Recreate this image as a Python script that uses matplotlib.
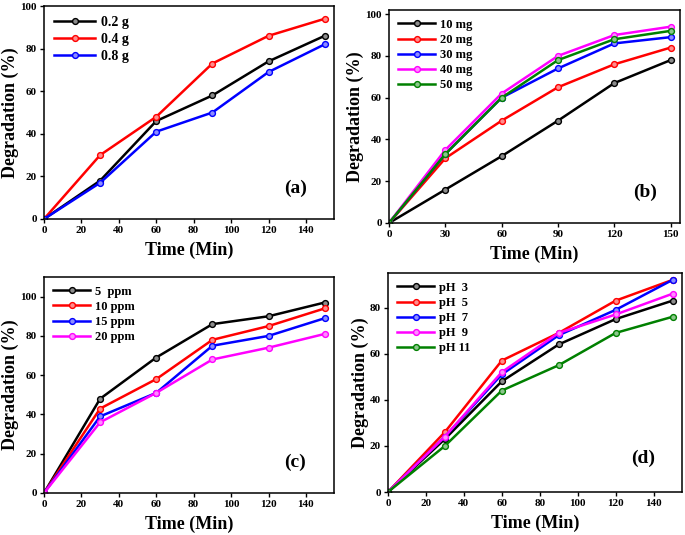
import matplotlib.pyplot as plt
from matplotlib.colors import to_rgb

plt.rcParams['font.family'] = ['Liberation Serif', 'DejaVu Serif']
plt.rcParams['font.weight'] = 'bold'

# time points (min)
t = [0, 30, 60, 90, 120, 150]

# (a) catalyst dose
labels_a = ['0.2 g', '0.4 g', '0.8 g']
vals_a = [
    [0, 18, 46, 58, 74, 86],
    [0, 30, 48, 73, 86, 94],
    [0, 17, 41, 50, 69, 82],
]
colors_a = ['black', 'red', 'blue']

# (b) dye amount
labels_b = ['10 mg', '20 mg', '30 mg', '40 mg', '50 mg']
vals_b = [
    [0, 16, 32, 49, 67, 78],
    [0, 31, 49, 65, 76, 84],
    [0, 33, 60, 74, 86, 89],
    [0, 35, 62, 80, 90, 94],
    [0, 33, 60, 78, 88, 92],
]
colors_b = ['black', 'red', 'blue', 'magenta', 'green']

# (c) concentration
labels_c = ['5  ppm', '10 ppm', '15 ppm', '20 ppm']
vals_c = [
    [0, 48, 69, 86, 90, 97],
    [0, 43, 58, 78, 85, 94],
    [0, 39, 51, 75, 80, 89],
    [0, 36, 51, 68, 74, 81],
]
colors_c = ['black', 'red', 'blue', 'magenta']

# (d) pH
labels_d = ['pH  3', 'pH  5', 'pH  7', 'pH  9', 'pH 11']
vals_d = [
    [0, 23, 48, 64, 75, 83],
    [0, 26, 57, 69, 83, 92],
    [0, 24, 51, 68, 79, 92],
    [0, 24, 52, 69, 77, 86],
    [0, 20, 44, 55, 69, 76],
]
colors_d = ['black', 'red', 'blue', 'magenta', 'green']


def light(c):
    r, g, b = to_rgb(c)
    return (r + (1 - r) * 0.55, g + (1 - g) * 0.55, b + (1 - b) * 0.55)


def panel(rect, labels, vals, colors, ylim, xticks, tag, tagpos, legsize=9,
          legspace=0.25):
    ax = fig.add_axes(rect)
    for lab, v, c in zip(labels, vals, colors):
        ax.plot(t, v, color=c, lw=1.8, marker='o', ms=4.2, mec=c,
                mfc=light(c), mew=1.0, label=lab)
    ax.set_xlim(0, 155)
    ax.set_ylim(*ylim)
    ax.set_xticks(xticks)
    ax.tick_params(direction='out', length=3, width=1, labelsize=8,
                   top=False, right=False, pad=2)
    for s in ax.spines.values():
        s.set_linewidth(1.1)
    ax.set_xlabel('Time (Min)', fontsize=13, fontweight='bold', labelpad=5)
    ax.set_ylabel('Degradation (%)', fontsize=13, fontweight='bold', labelpad=1)
    ax.legend(loc='upper left', frameon=False, fontsize=legsize,
              handlelength=3.0, handletextpad=0.4, labelspacing=legspace,
              borderaxespad=0.3)
    ax.text(tagpos[0], tagpos[1], tag, transform=ax.transAxes, fontsize=14,
            fontweight='bold', ha='center', va='center')
    return ax


fig = plt.figure(figsize=(6.85, 5.35), dpi=100)
W, H = 685, 535


def rect(l, r, top, bot):
    return [l / W, 1 - bot / H, (r - l) / W, (bot - top) / H]


panel(rect(44, 334, 6, 219), labels_a, vals_a, colors_a, (0, 100),
      range(0, 141, 20), '(a)', (0.866, 0.146), legsize=10, legspace=0.3)
panel(rect(389, 680, 10, 223), labels_b, vals_b, colors_b, (0, 102),
      range(0, 151, 30), '(b)', (0.88, 0.146))
panel(rect(44, 334, 277, 493), labels_c, vals_c, colors_c, (0, 110),
      range(0, 141, 20), '(c)', (0.866, 0.144))
panel(rect(388, 682, 273, 492), labels_d, vals_d, colors_d, (0, 95),
      range(0, 141, 20), '(d)', (0.867, 0.155))

fig.savefig('out.png', dpi=100)
